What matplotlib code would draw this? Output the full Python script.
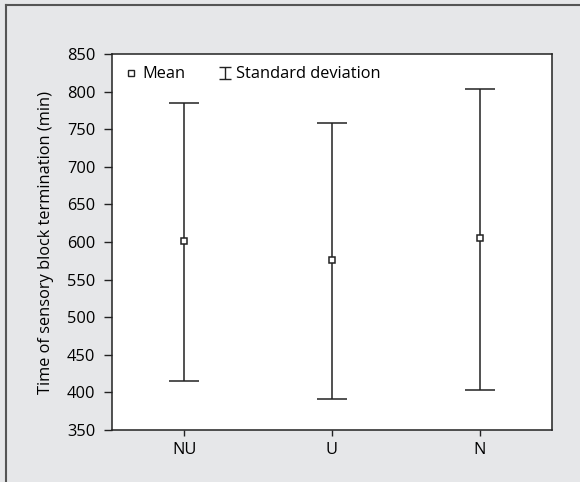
import matplotlib
matplotlib.use("Agg")
import matplotlib.pyplot as plt
from matplotlib.lines import Line2D
from matplotlib.path import Path
import numpy as np

categories = ["NU", "U", "N"]
means = [601, 576, 605]
upper = [785, 758, 804]
lower = [415, 391, 403]
yticks = [350, 400, 450, 500, 550, 600, 650, 700, 750, 800, 850]
ylabel = "Time of sensory block termination (min)"

plt.rcParams['font.family'] = ['Open Sans', 'DejaVu Sans']
bg = "#e6e7e9"
fs = 11.8

fig = plt.figure(figsize=(5.8, 4.82), dpi=100, facecolor=bg)
ax = fig.add_axes([112/580, 1-430/482, 440/580, 376/482])
ax.set_facecolor("white")

x = np.arange(len(categories))
m = np.array(means)
yerr = np.vstack([m - np.array(lower), np.array(upper) - m])
ax.errorbar(x, m, yerr=yerr, fmt='s', color='#222222', ecolor='#222222',
            mfc='white', mec='#222222', ms=4.5, mew=1.1, elinewidth=1.1,
            capsize=11, capthick=1.1)

ax.set_xlim(-0.49, 2.49)
ax.set_ylim(350, 850)
ax.set_xticks(x)
ax.set_xticklabels(categories)
ax.set_yticks(yticks)
ax.set_yticklabels([str(v) for v in yticks])
ax.tick_params(axis='y', direction='out', length=6, width=1, labelsize=fs, pad=6, color='#222222')
ax.tick_params(axis='x', direction='out', length=4, width=1, labelsize=fs, pad=5, color='#222222')
for s in ax.spines.values():
    s.set_linewidth(1.1)
    s.set_color('#222222')
ax.set_ylabel(ylabel, fontsize=fs, labelpad=9)

ibar = Path([(-1, 1), (1, 1), (0, 1), (0, -1), (-1, -1), (1, -1)],
            [Path.MOVETO, Path.LINETO, Path.MOVETO, Path.LINETO, Path.MOVETO, Path.LINETO])
h1 = Line2D([], [], marker='s', ls='none', mfc='white', mec='#222222', ms=4.5, mew=1.0)
h2 = Line2D([], [], marker=ibar, ls='none', color='#222222', ms=9, mew=1.0)
ax.legend([h1, h2], ["Mean", "Standard deviation"], loc='upper left', ncol=2,
          frameon=False, fontsize=fs, handlelength=0.8, handletextpad=0.3,
          columnspacing=2.0, borderaxespad=0.35, bbox_to_anchor=(0.0, 1.0))

fig.add_artist(Line2D([6/580, 6/580], [0, 1-5/482], transform=fig.transFigure, color='#555555', lw=1.5))
fig.add_artist(Line2D([6/580, 1], [1-5/482, 1-5/482], transform=fig.transFigure, color='#555555', lw=1.5))

fig.savefig("out.png", dpi=100, facecolor=bg)
